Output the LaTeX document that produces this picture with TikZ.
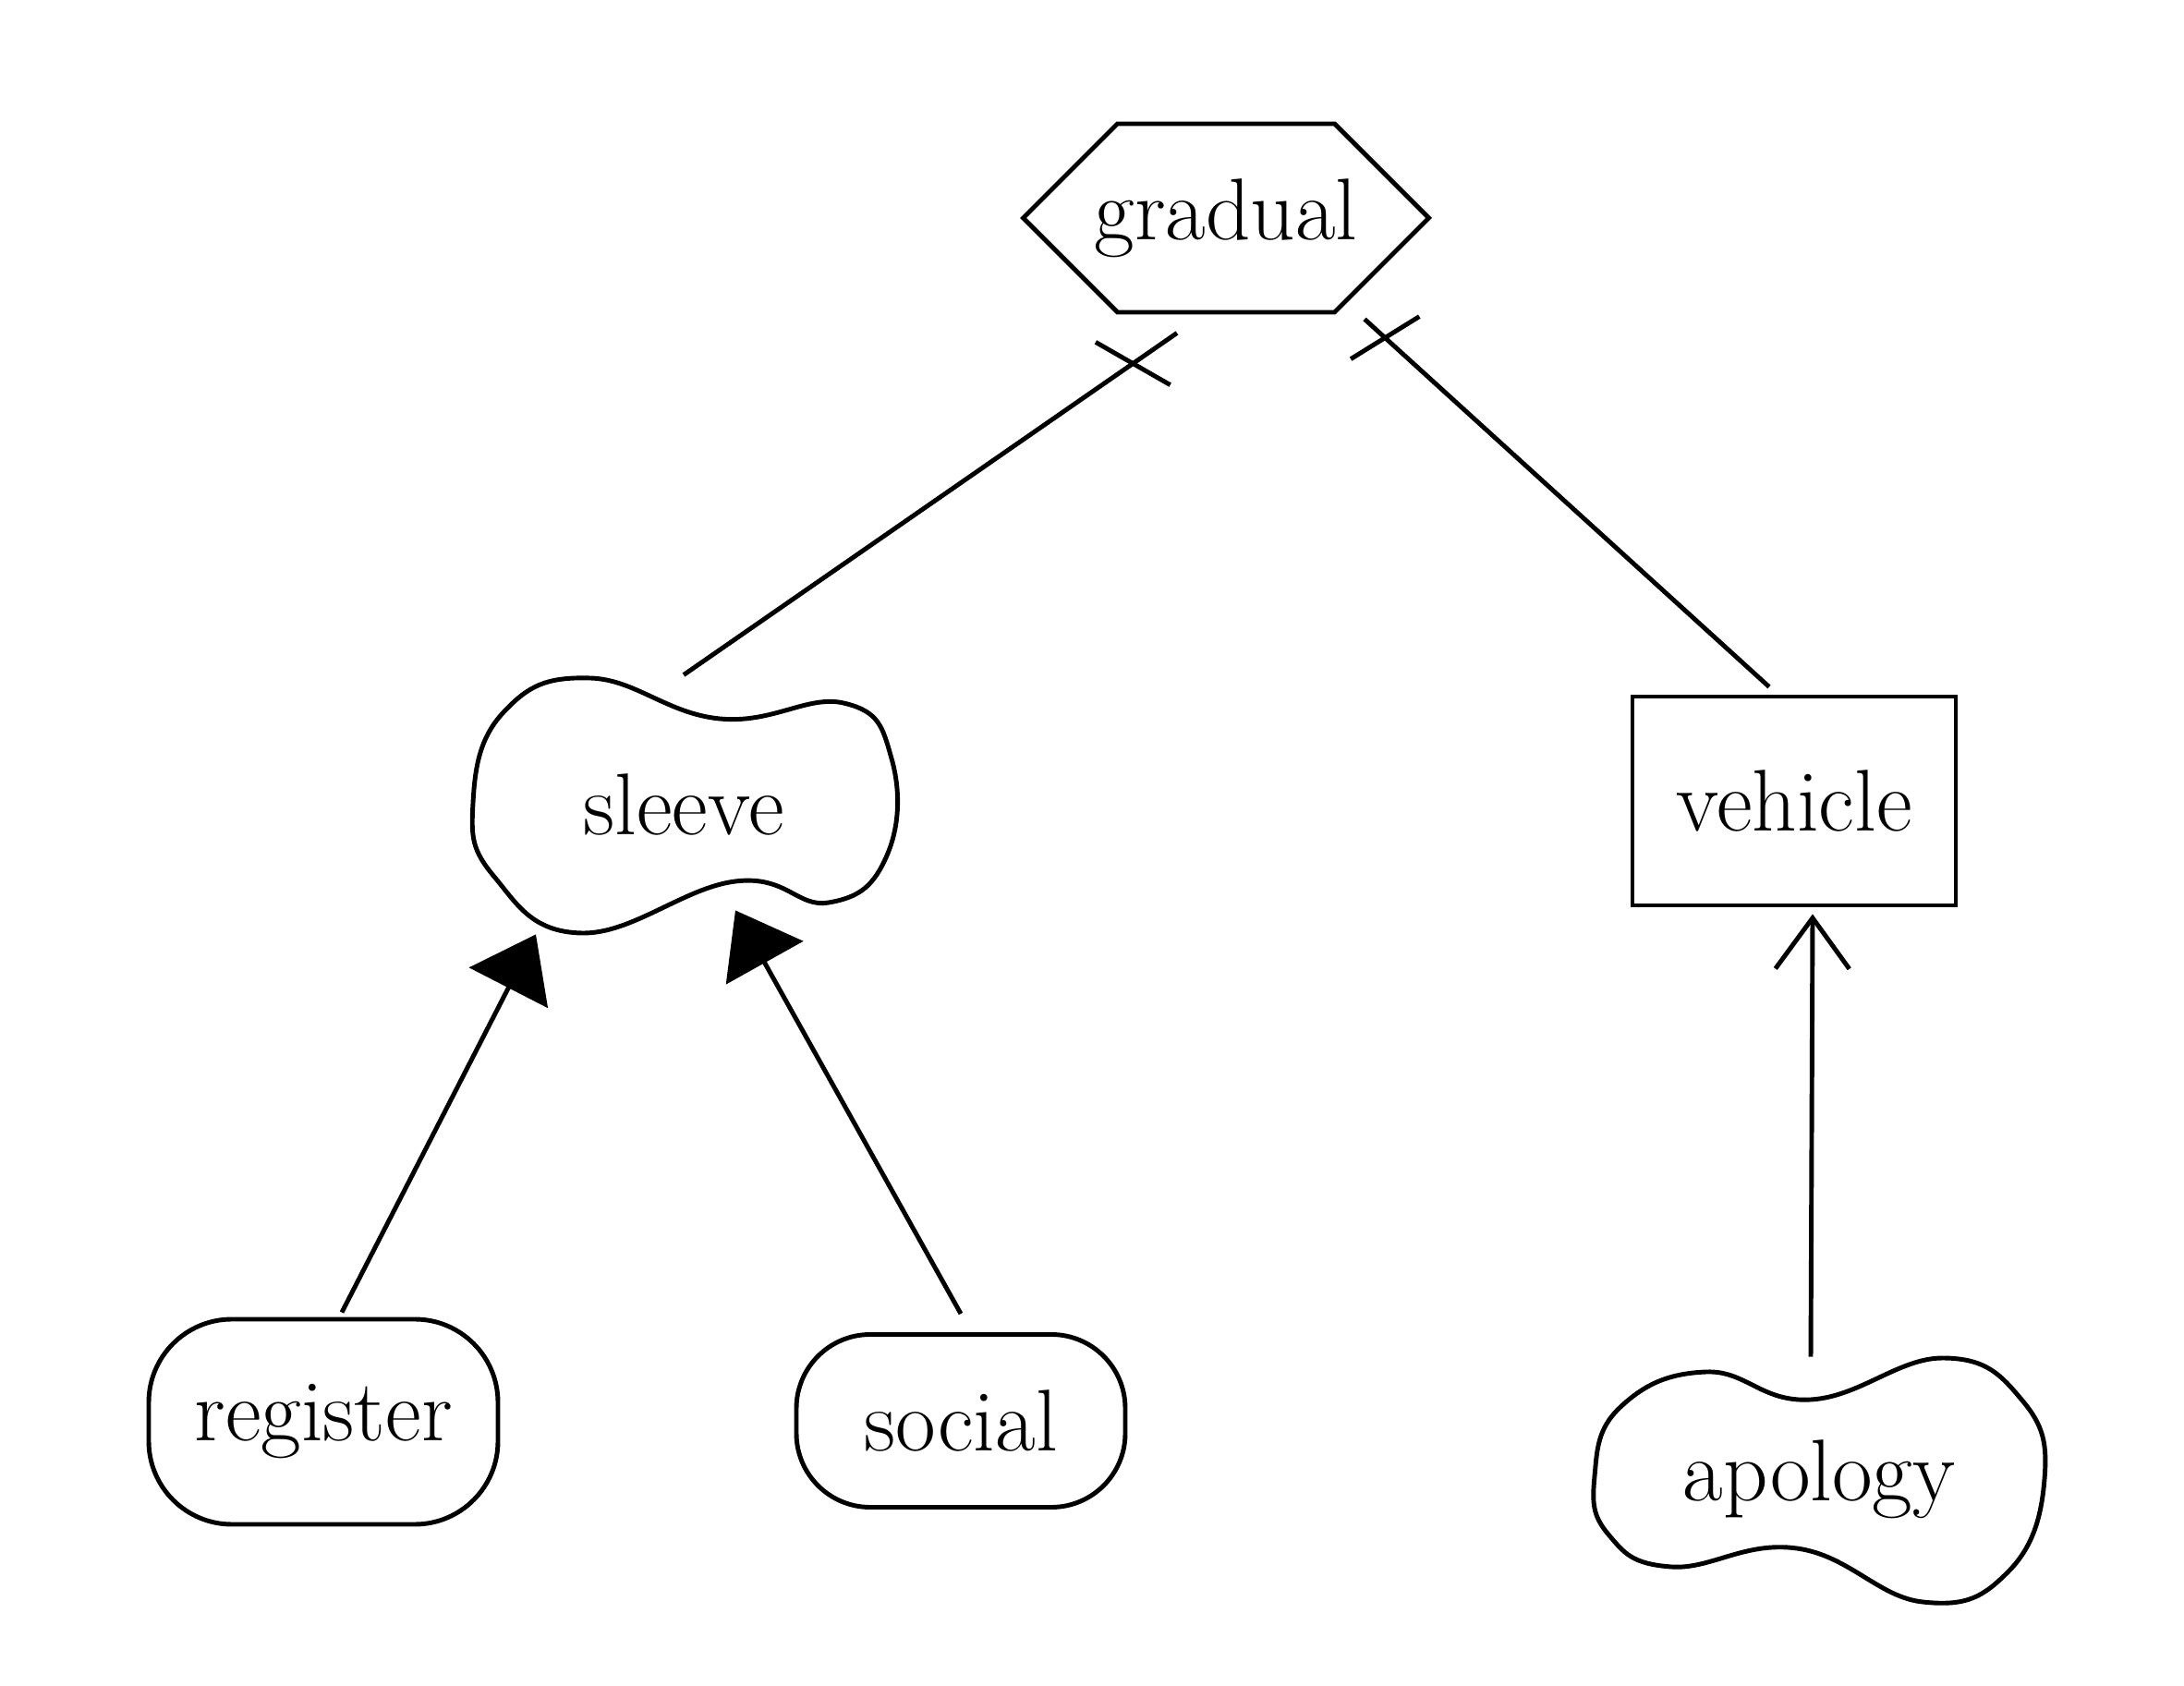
\documentclass[tikz,border=0pt]{standalone}
\usetikzlibrary{arrows.meta,shapes.symbols,decorations.markings}
\begin{document}
\begin{tikzpicture}[line width=1.4pt,
  every node/.style={font=\fontsize{27}{32}\selectfont,inner sep=2pt},
  hexa/.style={draw,shape=signal,signal to=east and west,signal pointer angle=90,inner xsep=-0.25cm,minimum height=2.04cm},
  blob/.style={minimum width=4.6cm,minimum height=2.76cm},
  box/.style={draw,minimum width=3.5cm,minimum height=2.26cm},
  pill/.style={draw,rounded corners=0.9cm},
  crossed/.style 2 args={postaction={decorate},decoration={markings,mark=at position -#1 with {\draw (-#2,0.42) -- (#2,-0.42);}}},
  isa/.style={-{Triangle[length=6.5mm,width=9.5mm]}},
  uses/.style={-{Straight Barb[length=5.5mm,width=8mm]}}]
\useasboundingbox (0,0) rectangle (23.64,18.24);
\node[hexa] (gradual) at (13.27,15.88) {gradual};
\node[blob] (sleeve) at (7.40,9.53) {sleeve};
\node[box] (vehicle) at (19.42,9.57) {vehicle};
\node[pill,minimum width=3.78cm,minimum height=2.22cm] (register) at (3.50,2.85) {register};
\node[pill,minimum width=3.56cm,minimum height=1.87cm,rounded corners=0.8cm] (social) at (10.40,2.86) {social};
\node[blob,minimum width=4.9cm,minimum height=2.6cm] (apology) at (19.69,2.23) {apology};
\draw[shift={(sleeve.center)}] plot[smooth cycle,tension=0.75] coordinates {(-2.28,0.02) (-1.95,1.0) (-1.01,1.37) (0.39,0.93) (1.73,1.10) (2.25,0.5) (2.2,-0.55) (1.57,-1.06) (0.56,-0.83) (-1.10,-1.39) (-2.05,-0.78)};
\draw[shift={(apology.center)}] plot[smooth cycle,tension=0.75] coordinates {(-2.43,0.03) (-2.15,0.78) (-1.22,1.16) (-0.09,0.86) (1.34,1.31) (2.2,0.85) (2.44,0.0) (2.05,-1.0) (1.12,-1.33) (-0.24,-0.75) (-1.60,-0.95) (-2.28,-0.6)};
\draw[crossed={0.58cm}{0.2}] (sleeve.north) -- ([xshift=-0.53cm,yshift=-0.2cm]gradual.south);
\draw[crossed={0.3cm}{-0.12}] ([xshift=-0.27cm,yshift=0.08cm]vehicle.north) -- ([xshift=1.5cm,yshift=-0.05cm]gradual.south);
\draw[isa] ([xshift=0.2cm,yshift=0.05cm]register.north) -- ([xshift=-1.6cm]sleeve.south);
\draw[isa] ([yshift=0.2cm]social.north) -- ([xshift=0.56cm,yshift=0.26cm]sleeve.south);
\draw[uses] ([xshift=-0.09cm]apology.north) -- ([xshift=0.2cm,yshift=-0.07cm]vehicle.south);
\end{tikzpicture}
\end{document}
